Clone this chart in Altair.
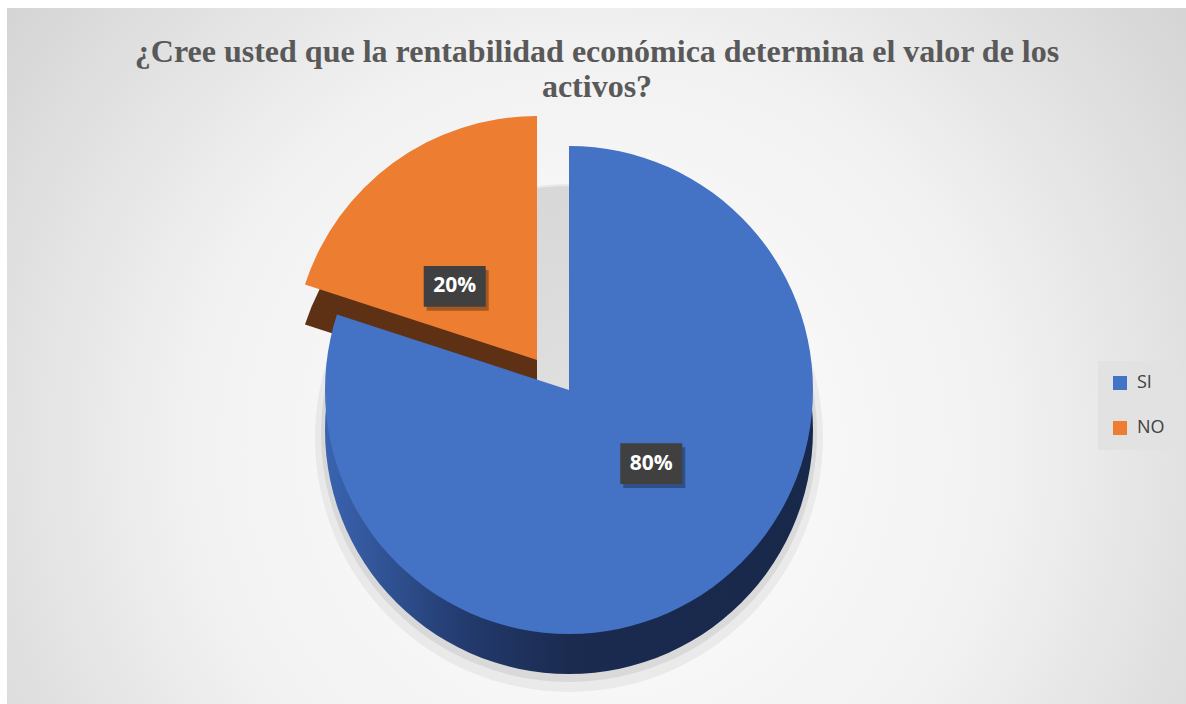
import math
import altair as alt
import pandas as pd

# ---- data ----
categories = ["SI", "NO"]
values = [80, 20]
labels = ["80%", "20%"]
order = [0, 1]
title_lines = [
    "¿Cree usted que la rentabilidad económica determina el valor de los",
    "activos?",
]

# ---- style ----
top_colors = ["#4472C4", "#ED7D31"]
no_side_color = "#5E3115"
si_side_gradient = {
    "gradient": "linear",
    "x1": 0, "y1": 0.5, "x2": 1, "y2": 0.5,
    "stops": [
        {"offset": 0.0, "color": "#3A64B0"},
        {"offset": 0.3, "color": "#22396B"},
        {"offset": 0.5, "color": "#1B2B50"},
        {"offset": 1.0, "color": "#18284A"},
    ],
}
bg_gradient = {
    "gradient": "radial",
    "x1": 0.5, "y1": 0.58, "r1": 0,
    "x2": 0.5, "y2": 0.58, "r2": 0.78,
    "stops": [
        {"offset": 0.0, "color": "#FFFFFF"},
        {"offset": 0.45, "color": "#F1F1F1"},
        {"offset": 1.0, "color": "#C4C4C4"},
    ],
}

W, H = 1179, 696
CX, CY = 562, 382        # pie centre (view px)
R = 244                  # pie radius
DEPTH = 40               # 3-D thickness
EX, EY = -32, -30        # explode offset of the NO slice
RL, K = 140, 0.65        # label placement

df = pd.DataFrame({"cat": categories, "value": values, "label": labels, "order": order})

base = alt.Chart(df).transform_window(
    cum="sum(value)", sort=[alt.SortField("order")], frame=[None, 0]
).transform_calculate(
    start="datum.cum - datum.value", end="datum.cum"
)

theta = alt.Theta("start:Q", scale=alt.Scale(domain=[0, 100]), stack=False)
theta2 = alt.Theta2("end:Q")

one = alt.Chart(pd.DataFrame({"k": [0]}))

background = one.mark_rect(fill=bg_gradient).encode(
    x=alt.value(0), x2=alt.value(W), y=alt.value(0), y2=alt.value(H)
)

shadow1 = one.mark_arc(radius=R + 10, color="#000000", opacity=0.05).encode(
    theta=alt.value(0), theta2=alt.value(2 * math.pi),
    x=alt.value(CX), y=alt.value(CY + DEPTH + 8),
)
shadow2 = one.mark_arc(radius=R + 4, color="#000000", opacity=0.07).encode(
    theta=alt.value(0), theta2=alt.value(2 * math.pi),
    x=alt.value(CX), y=alt.value(CY + DEPTH + 4),
)

no_side = base.transform_filter("datum.cat == 'NO'").mark_arc(
    radius=R, fill=no_side_color
).encode(theta=theta, theta2=theta2, x=alt.value(CX + EX), y=alt.value(CY + EY + DEPTH))

color_enc = alt.Color(
    "cat:N",
    scale=alt.Scale(domain=categories, range=top_colors),
    legend=alt.Legend(
        orient="none", legendX=1091, legendY=353, title=None,
        symbolType="square", symbolSize=196, symbolStrokeWidth=0,
        labelFont="Open Sans", labelFontSize=18, labelColor="#404040",
        labelOffset=8, fillColor="#E2E2E2", padding=13, rowPadding=27,
    ),
)

no_top = base.transform_filter("datum.cat == 'NO'").mark_arc(radius=R).encode(
    theta=theta, theta2=theta2, color=color_enc,
    x=alt.value(CX + EX), y=alt.value(CY + EY),
)

si_side = base.transform_filter("datum.cat == 'SI'").mark_arc(
    radius=R, fill=si_side_gradient
).encode(theta=theta, theta2=theta2, x=alt.value(CX), y=alt.value(CY + DEPTH))

si_top = base.transform_filter("datum.cat == 'SI'").mark_arc(radius=R).encode(
    theta=theta, theta2=theta2, color=color_enc,
    x=alt.value(CX), y=alt.value(CY),
)

lab = base.transform_calculate(
    mid="(datum.start + datum.end) / 2 / 100 * 2 * PI",
).transform_calculate(
    lx=f"{CX} + {RL} * sin(datum.mid) + (datum.cat == 'NO' ? {EX} : 0)",
    ly=f"{CY} - {RL} * {K} * cos(datum.mid) + (datum.cat == 'NO' ? {EY} : 0)",
)
pos = dict(
    x=alt.X("lx:Q", scale=None, axis=None),
    y=alt.Y("ly:Q", scale=None, axis=None),
)
box_shape = "M-1,-0.66L1,-0.66L1,0.66L-1,0.66Z"
box_shadow = lab.mark_point(
    shape=box_shape, size=3844, filled=True, color="#000000", opacity=0.3,
    xOffset=3, yOffset=4, strokeWidth=0,
).encode(**pos)
box = lab.mark_point(
    shape=box_shape, size=3844, filled=True, color="#404040", opacity=1, strokeWidth=0,
).encode(**pos)
text = lab.mark_text(
    color="white", font="Open Sans", fontSize=21, fontWeight="bold",
    align="center", baseline="middle",
).encode(text="label:N", **pos)

title = one.mark_text(
    text=title_lines, font="Liberation Serif", fontSize=32, fontWeight="bold",
    color="#595959", align="center", baseline="alphabetic", lineHeight=35,
).encode(x=alt.value(590), y=alt.value(54))

chart = alt.layer(
    background, shadow1, shadow2, no_side, no_top, si_side, si_top,
    box_shadow, box, text, title,
).properties(
    width=W, height=H,
    autosize=alt.AutoSizeParams(type="none"),
    padding={"left": 7, "top": 8, "right": 0, "bottom": 0},
    background="white",
).configure_view(stroke=None)

chart.save("out.html", embed_options={"renderer": "svg", "actions": False})
